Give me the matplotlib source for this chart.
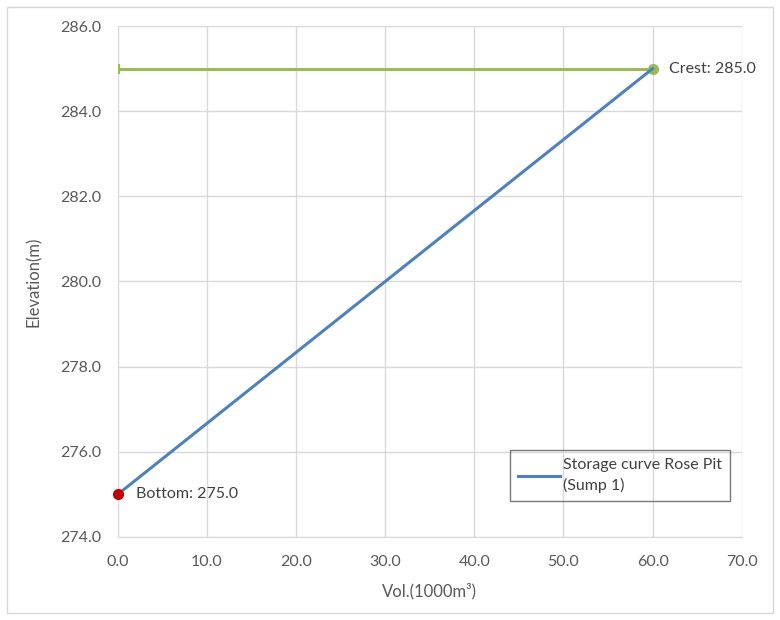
import matplotlib.pyplot as plt
from matplotlib.patches import Rectangle

# storage curve (volume in 1000 m3 vs elevation in m)
volume = [0.0, 60.0]
elevation = [275.0, 285.0]
crest_x = [0.0, 60.0]
crest_y = [285.0, 285.0]
bottom_level = 275.0
crest_level = 285.0

xticks = [0, 10, 20, 30, 40, 50, 60, 70]
yticks = [274, 276, 278, 280, 282, 284, 286]

plt.rcParams['font.family'] = ['Lato', 'DejaVu Sans']

fig = plt.figure(figsize=(7.8, 6.2), dpi=100)
ax = fig.add_axes([0.151, 0.134, 0.8, 0.824])

ax.plot(crest_x, crest_y, color='#9bbb59', lw=2.2, zorder=3)
ax.plot(crest_x[1:], crest_y[1:], 'o', color='#9bbb59', ms=7, zorder=3)
ax.plot(crest_x[:1], crest_y[:1], '|', color='#9bbb59', ms=7, mew=3, zorder=3)
ax.plot(volume, elevation, color='#4f81bd', lw=2.2, label='Storage curve Rose Pit\n(Sump 1)', zorder=4)
ax.plot([volume[0]], [bottom_level], 'o', color='#c00000', ms=7, zorder=5, clip_on=False)

ax.text(volume[0] + 2.0, bottom_level, f'Bottom: {bottom_level:.1f}', fontsize=11.5,
        color='#404040', va='center')
ax.text(crest_x[1] + 1.8, crest_level, f'Crest: {crest_level:.1f}', fontsize=11.5,
        color='#404040', va='center')

ax.set_xlim(0, 70)
ax.set_ylim(274, 286)
ax.set_xticks(xticks)
ax.set_yticks(yticks)
ax.set_xticklabels([f'{v:.1f}' for v in xticks])
ax.set_yticklabels([f'{v:.1f}' for v in yticks])
ax.tick_params(length=0, labelsize=11.5, labelcolor='#595959')
ax.tick_params(axis='x', pad=13)
ax.tick_params(axis='y', pad=12)

ax.grid(True, color='#d9d9d9', lw=1)
ax.set_axisbelow(True)
for side in ['top', 'right', 'left']:
    ax.spines[side].set_visible(False)
ax.spines['bottom'].set_color('#d9d9d9')

ax.set_xlabel('Vol.(1000m³)', fontsize=12, color='#595959', labelpad=10)
ax.set_ylabel('Elevation(m)', fontsize=12, color='#595959', labelpad=13)

leg = ax.legend(handles=[ax.lines[3]], loc='lower right', bbox_to_anchor=(0.981, 0.07),
                fontsize=11.5, frameon=True, fancybox=False, handlelength=2.6,
                handletextpad=0.2, borderpad=0.5, borderaxespad=0)
leg.get_frame().set_facecolor('none')
leg.get_frame().set_edgecolor('#595959')
for t in leg.get_texts():
    t.set_color('#404040')
    t.set_linespacing(1.5)

fig.patches.append(Rectangle((0.009, 0.011), 0.982, 0.978, transform=fig.transFigure,
                             fill=False, edgecolor='#d9d9d9', lw=1))

fig.savefig('out.png', dpi=100)
